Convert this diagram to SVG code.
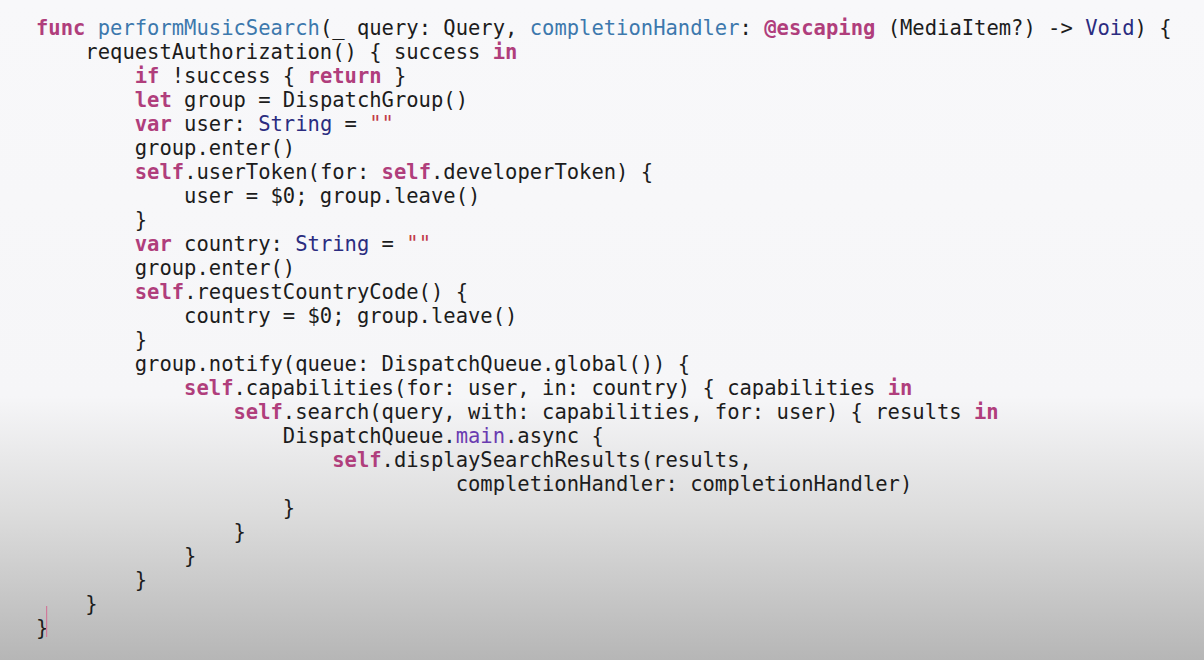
<svg xmlns="http://www.w3.org/2000/svg" width="1204" height="660" viewBox="0 0 1204 660">
<defs>
<linearGradient id="bg" x1="0" y1="0" x2="0" y2="1">
<stop offset="0" stop-color="#f8f8fa"/>
<stop offset="0.6" stop-color="#f6f6f8"/>
<stop offset="0.78" stop-color="#dcdcdc"/>
<stop offset="1" stop-color="#b6b6b6"/>
</linearGradient>
<style>
text{font-family:"DejaVu Sans Mono","Liberation Mono",monospace;font-size:20.5px;fill:#1c1c1c;white-space:pre}
.k{fill:#b03e7c;font-weight:bold}
.f{fill:#3d78ad}
.t{fill:#2b2c80}
.p{fill:#6a3bb0}
.s{fill:#c23a48}
</style>
</defs>
<rect width="1204" height="660" fill="url(#bg)"/>
<g id="code" xml:space="preserve">
<text x="36" y="35"><tspan class="k">func</tspan> <tspan class="f">performMusicSearch</tspan>(_ query: Query, <tspan class="f">completionHandler</tspan>: <tspan class="k">@escaping</tspan> (MediaItem?) -&gt; <tspan class="t">Void</tspan>) {</text>
<text x="36" y="59">    requestAuthorization() { success <tspan class="k">in</tspan></text>
<text x="36" y="83">        <tspan class="k">if</tspan> !success { <tspan class="k">return</tspan> }</text>
<text x="36" y="107">        <tspan class="k">let</tspan> group = DispatchGroup()</text>
<text x="36" y="131">        <tspan class="k">var</tspan> user: <tspan class="t">String</tspan> = <tspan class="s">""</tspan></text>
<text x="36" y="155">        group.enter()</text>
<text x="36" y="179">        <tspan class="k">self</tspan>.userToken(for: <tspan class="k">self</tspan>.developerToken) {</text>
<text x="36" y="203">            user = $0; group.leave()</text>
<text x="36" y="227">        }</text>
<text x="36" y="251">        <tspan class="k">var</tspan> country: <tspan class="t">String</tspan> = <tspan class="s">""</tspan></text>
<text x="36" y="275">        group.enter()</text>
<text x="36" y="299">        <tspan class="k">self</tspan>.requestCountryCode() {</text>
<text x="36" y="323">            country = $0; group.leave()</text>
<text x="36" y="347">        }</text>
<text x="36" y="371">        group.notify(queue: DispatchQueue.global()) {</text>
<text x="36" y="395">            <tspan class="k">self</tspan>.capabilities(for: user, in: country) { capabilities <tspan class="k">in</tspan></text>
<text x="36" y="419">                <tspan class="k">self</tspan>.search(query, with: capabilities, for: user) { results <tspan class="k">in</tspan></text>
<text x="36" y="443">                    DispatchQueue.<tspan class="p">main</tspan>.async {</text>
<text x="36" y="467">                        <tspan class="k">self</tspan>.displaySearchResults(results,</text>
<text x="36" y="491">                                  completionHandler: completionHandler)</text>
<text x="36" y="515">                    }</text>
<text x="36" y="539">                }</text>
<text x="36" y="563">            }</text>
<text x="36" y="587">        }</text>
<text x="36" y="611">    }</text>
<text x="36" y="635">}</text>
</g>
<rect id="cursor" x="46" y="606" width="1.2" height="31" fill="#d07a9a"/>
</svg>
